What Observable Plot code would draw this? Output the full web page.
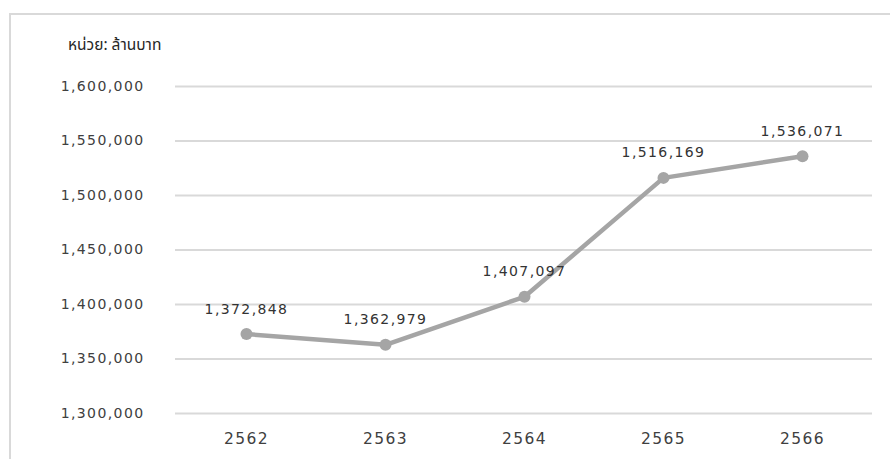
<!DOCTYPE html>
<html>
<head>
<meta charset="utf-8">
<script src="https://cdn.jsdelivr.net/npm/d3@7"></script>
<script src="https://cdn.jsdelivr.net/npm/@observablehq/plot@0.6"></script>
<style>
  html, body { margin: 0; padding: 0; background: #fff; }
  #wrap { position: relative; width: 890px; height: 459px; overflow: hidden; }
  #frame { position: absolute; left: 9px; top: 13px; width: 900px; height: 500px;
           border-top: 2px solid #d9d9d9; border-left: 2px solid #d9d9d9; }
  #title { position: absolute; left: 68px; top: 34px; font-family: Tahoma, "Noto Sans Thai", "Noto Sans", sans-serif;
           font-size: 15.5px; font-weight: normal; color: #262626; }
  #chart { position: absolute; left: 0; top: 0; }
  #chart svg text { letter-spacing: 1.4px; }
</style>
</head>
<body>
<div id="wrap">
  <div id="frame"></div>
  <div id="chart"></div>
  <div id="title">หน่วย: ล้านบาท</div>
</div>
<script>
const years = ["2562", "2563", "2564", "2565", "2566"];
const values = [1372848, 1362979, 1407097, 1516169, 1536071];
const yTicks = [1300000, 1350000, 1400000, 1450000, 1500000, 1550000, 1600000];
const unitLabel = "หน่วย: ล้านบาท";

const data = years.map((y, i) => ({year: y, value: values[i]}));
const fmt = d3.format(",");

const chart = Plot.plot({
  width: 890,
  height: 459,
  marginTop: 86,
  marginBottom: 46,
  marginLeft: 175,
  marginRight: 18,
  style: {fontFamily: "'DejaVu Sans', Verdana, sans-serif", background: "transparent", overflow: "visible"},
  x: {type: "point", domain: years, padding: 0.5},
  y: {domain: [1300000, 1600000]},
  marks: [
    Plot.gridY(yTicks, {stroke: "#d9d9d9", strokeOpacity: 1, strokeWidth: 2}),
    Plot.axisY(yTicks, {tickSize: 0, tickPadding: 31, tickFormat: fmt, fontSize: 14, color: "#404040", label: null}),
    Plot.axisX(years, {tickSize: 0, tickPadding: 19, fontSize: 15.5, color: "#404040", label: null}),
    Plot.line(data, {x: "year", y: "value", stroke: "#a5a5a5", strokeWidth: 4.5}),
    Plot.dot(data, {x: "year", y: "value", fill: "#a5a5a5", r: 6}),
    Plot.text(data, {x: "year", y: "value", text: d => fmt(d.value), dy: -25, fontSize: 14, fill: "#333"})
  ]
});
document.getElementById("chart").appendChild(chart);
</script>
</body>
</html>
